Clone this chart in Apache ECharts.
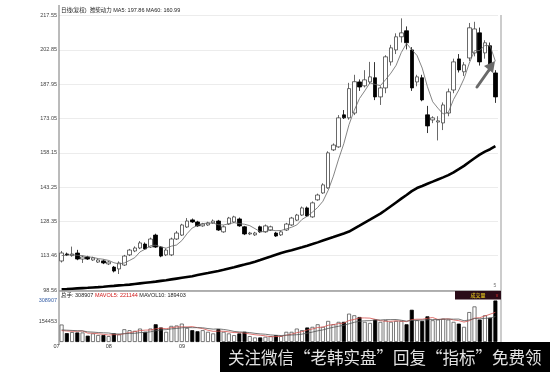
<!DOCTYPE html>
<html><head><meta charset="utf-8">
<script src="https://cdn.jsdelivr.net/npm/echarts@6/dist/echarts.min.js"></script>
<style>html,body{margin:0;padding:0;background:#fff}#c{width:550px;height:372px}</style>
</head><body><div id="c"></div>
<script>
// ---- data ----
const xMonthLabels = {0: '07', 10: '08', 24: '09'};
const priceTicks = ['98.56', '113.46', '128.35', '143.25', '158.15', '173.05', '187.95', '202.85', '217.55'];
const volTicks = ['', '154453', '308907'];

const opens = [111.16,114.2,113.5,114.6,112.0,112.9,111.6,110.7,111.2,109.9,
108.5,107.7,109.4,113.8,115.5,116.8,118.5,117.2,122.4,117.2,
113.8,113.8,120.7,122.4,125.9,129.0,128.1,126.4,126.8,127.7,
128.5,123.8,127.2,128.1,129.4,126.0,122.9,122.5,126.0,123.8,
124.6,123.3,122.5,124.6,126.8,128.9,131.1,134.2,130.3,137.7,
140.7,142.9,159.4,160.7,174.6,173.3,175.4,188.9,187.2,188.9,
190.7,182.4,186.3,197.6,202.8,208.5,211.1,202.8,188.9,190.7,
174.6,172.4,171.5,171.1,175.4,185.4,198.9,193.3,199.3,201.5,
210.2,201.5,204.6,192.8];
const closes = [114.63,113.8,114.2,112.0,112.9,112.0,112.5,111.6,110.3,110.7,
106.8,110.3,113.3,115.9,116.8,119.0,116.4,120.7,117.2,113.3,
115.9,120.7,123.3,126.8,128.5,128.1,126.4,127.2,127.7,128.5,
124.6,126.0,129.8,130.3,126.4,122.9,123.3,123.3,123.8,126.4,
126.0,122.0,123.8,127.2,129.8,131.1,134.2,130.7,136.4,139.8,
144.2,158.1,161.5,173.3,173.3,186.0,189.0,186.7,189.8,191.1,
182.4,186.3,199.8,203.7,208.5,210.2,205.9,186.3,191.1,181.1,
169.8,173.3,172.0,178.9,184.6,197.6,194.1,196.3,212.4,211.9,
197.6,205.9,194.5,182.4];
const lows = [110.5,113.3,113.0,111.5,110.3,111.6,111.2,110.3,109.8,109.4,
106.2,105.5,109.0,113.3,115.0,116.3,116.0,116.8,116.8,112.8,
113.3,113.3,120.3,122.0,125.5,127.7,126.0,126.0,126.4,127.3,
124.2,123.4,126.8,127.7,126.0,122.4,122.4,122.0,123.4,123.4,
124.2,121.6,122.0,124.2,126.4,128.5,130.7,130.3,129.9,137.3,
140.3,142.5,158.9,160.3,172.8,172.5,174.5,185.0,186.5,188.0,
181.0,178.9,184.0,196.0,201.0,206.0,203.0,185.0,187.0,180.5,
166.7,171.0,163.5,168.0,174.0,184.0,193.0,191.5,198.0,200.0,
196.0,199.0,193.5,179.8];
const highs = [115.5,114.8,117.4,116.0,113.5,113.4,113.0,112.2,111.8,111.2,
109.0,111.0,113.8,116.4,117.5,119.8,119.2,121.3,123.0,117.6,
116.6,121.3,124.2,127.3,129.8,129.6,128.6,127.7,128.2,129.2,
129.0,126.6,130.3,130.8,130.0,126.4,123.8,123.8,126.5,127.0,
126.5,123.8,124.3,127.7,130.3,131.6,134.8,134.8,137.0,140.4,
144.9,158.8,162.2,174.5,176.7,188.5,192.0,190.0,194.0,197.6,
197.5,187.0,200.5,205.0,210.0,216.5,213.0,204.0,192.0,192.0,
178.5,174.0,174.0,180.0,186.0,199.0,201.0,197.5,214.5,215.0,
212.5,207.0,206.0,194.0];
const ma5 = [113.5,113.7,113.9,113.6,113.5,113.0,112.7,112.2,111.9,111.4,
110.4,109.9,110.3,111.4,112.6,115.1,116.3,117.8,118.0,117.3,
116.7,117.6,118.1,120.0,123.0,125.5,126.6,127.4,127.6,127.6,
126.9,126.8,127.3,127.8,127.4,127.1,126.5,125.2,123.9,123.9,
124.6,124.3,124.4,125.1,125.8,126.8,129.2,130.6,132.4,134.4,
137.1,141.8,148.0,155.4,162.1,170.4,176.6,181.7,185.0,188.5,
187.8,187.3,189.9,192.7,196.1,201.7,205.6,202.9,200.4,194.9,
186.8,180.3,177.5,175.0,175.7,181.3,185.4,190.3,197.0,202.5,
202.5,204.8,204.5,197.86];
const ma60 = [98.82,98.95,99.10,99.25,99.39,99.52,99.67,99.82,99.99,100.17,
100.34,100.56,100.73,100.91,101.17,101.43,101.69,101.95,102.21,102.51,
102.81,103.16,103.51,103.86,104.21,104.55,105.03,105.47,105.90,106.38,
106.81,107.33,107.90,108.46,109.03,109.59,110.16,110.85,111.59,112.37,
113.11,113.89,114.63,115.24,115.85,116.50,117.11,117.80,118.50,119.24,
120.02,120.80,121.54,122.32,123.10,123.93,125.23,126.53,127.84,129.10,
130.40,131.70,133.27,134.92,136.57,138.22,139.83,141.48,142.83,143.74,
144.69,145.61,146.56,147.47,148.43,149.64,151.04,152.47,154.16,155.77,
157.33,158.64,159.68,160.99];
const volumes = [130000,66000,74000,71000,71000,47000,64000,52000,52000,44000,
64000,57000,95000,88000,83000,100000,76000,100000,132000,108000,
76000,120000,123000,137000,105000,88000,80000,88000,76000,64000,
96000,76000,64000,51000,64000,76000,44000,34000,34000,39000,
44000,51000,44000,76000,76000,100000,88000,108000,113000,132000,
113000,157000,132000,150000,150000,211000,199000,186000,150000,142000,
167000,150000,162000,150000,157000,157000,132000,240000,162000,157000,
191000,162000,167000,174000,167000,150000,137000,113000,223000,265000,
167000,199000,181000,308907];
const mavol5 = [85000,82000,80000,80000,82400,65800,65400,61000,57200,51800,
55200,53800,62400,69600,77400,84600,88400,89400,98200,103200,
98400,107200,111800,112800,112200,114600,106600,99600,87400,79200,
80800,80000,75200,70200,70200,66200,59800,53800,50400,45400,
39000,40400,42400,50800,58200,69400,76800,89600,97000,108200,
110800,124600,129400,136800,140400,160000,168400,179200,179200,177600,
168800,159000,154200,154200,157200,155200,151600,167200,169600,169600,
176400,182400,167800,170200,172200,164000,159000,148200,158000,177600,
181000,193400,207000,221144];
const mavol10 = [90000,88000,86000,84000,83000,75400,73700,70500,68600,67100,
60500,59600,61700,63400,64600,69900,71100,75900,83900,90300,
91500,97800,100600,105500,107700,106500,106900,105700,100100,95700,
97700,93300,87400,78800,74700,73500,69900,64500,60300,57800,
52600,50100,48100,50600,51800,54200,58600,66000,73900,83200,
90100,100700,109500,116900,124300,135400,146500,154300,158000,159000,
164400,163700,166700,166700,167400,162000,155300,160700,161900,163400,
165800,167000,167500,169900,170900,170200,170700,158000,164100,174900,
172500,176200,177600,189403];

// ---- build ----
const cats = opens.map((_, i) => 'k' + i);
const candle = opens.map((o, i) => [o, closes[i], lows[i], highs[i]]);
const volData = volumes.map((v, i) => ({
  value: v,
  itemStyle: closes[i] >= opens[i]
    ? {color: '#ffffff', borderColor: '#555', borderWidth: 0.8}
    : {color: '#000000', borderColor: '#000', borderWidth: 0.8}
}));
const F = '"Liberation Sans", "Noto Sans CJK SC", sans-serif';
const PMIN = 98.56, PSTEP = 14.8975;

const chart = echarts.init(document.getElementById('c'), null, {renderer: 'canvas'});
chart.setOption({
  animation: false,
  backgroundColor: '#ffffff',
  grid: [
    {left: 59, width: 439, top: 15.5, height: 274.5},
    {left: 59, width: 439, top: 300.5, height: 41.5}
  ],
  xAxis: [
    {type: 'category', gridIndex: 0, data: cats, show: false},
    {type: 'category', gridIndex: 1, data: cats,
     axisLine: {show: false}, axisTick: {show: false},
     axisLabel: {interval: 0, margin: 2, fontSize: 5.5, fontFamily: F, color: '#333',
       align: 'right', padding: [0, 2, 0, 0],
       formatter: (v, i) => xMonthLabels[i] || ''}}
  ],
  yAxis: [
    {type: 'value', gridIndex: 0, min: PMIN, max: PMIN + 8 * PSTEP, show: false},
    {type: 'value', gridIndex: 0, position: 'left', min: 0, max: 8, interval: 1,
     axisLine: {show: false}, axisTick: {show: false},
     splitLine: {show: true, lineStyle: {color: '#ececec', width: 1}},
     axisLabel: {margin: 2, fontSize: 5.5, fontFamily: F, color: '#444',
       formatter: (v, i) => priceTicks[i]}},
    {type: 'value', gridIndex: 1, position: 'left', min: 0, max: 308907, interval: 154453.5,
     axisLine: {show: false}, axisTick: {show: false}, splitLine: {show: false},
     axisLabel: {margin: 2, fontSize: 5.5, fontFamily: F,
       color: (v, i) => (i === 2 ? '#3a62a8' : '#444'),
       formatter: (v, i) => volTicks[i]}}
  ],
  series: [
    {type: 'candlestick', xAxisIndex: 0, yAxisIndex: 0, data: candle, barWidth: 4,
     itemStyle: {color: '#ffffff', color0: '#000000', borderColor: '#444', borderColor0: '#000', borderWidth: 0.8}},
    {type: 'line', xAxisIndex: 0, yAxisIndex: 0, data: ma5, symbol: 'none',
     lineStyle: {color: '#666', width: 0.8}},
    {type: 'line', xAxisIndex: 0, yAxisIndex: 0, data: ma60, symbol: 'none',
     lineStyle: {color: '#000', width: 2.6}},
    {type: 'bar', xAxisIndex: 1, yAxisIndex: 2, data: volData, barWidth: 4},
    {type: 'line', xAxisIndex: 1, yAxisIndex: 2, data: mavol5, symbol: 'none',
     lineStyle: {color: '#d9534f', width: 0.8}},
    {type: 'line', xAxisIndex: 1, yAxisIndex: 2, data: mavol10, symbol: 'none',
     lineStyle: {color: '#555', width: 0.8}}
  ],
  graphic: [
    {type: 'line', z: 50, shape: {x1: 59, y1: 5, x2: 59, y2: 345}, style: {stroke: '#777', lineWidth: 1}},
    {type: 'line', z: 50, shape: {x1: 501, y1: 15, x2: 501, y2: 342}, style: {stroke: '#999', lineWidth: 1}},
    {type: 'line', z: 50, shape: {x1: 59, y1: 291, x2: 501, y2: 291}, style: {stroke: '#999', lineWidth: 1.5}},
    {type: 'text', z: 50, x: 61, y: 10, style: {text: '日线(复权)  潍柴动力 MA5: 197.86 MA60: 160.99',
      font: '5.5px ' + F, fill: '#222', align: 'left', verticalAlign: 'middle', textAlign: 'left', textVerticalAlign: 'middle'}},
    {type: 'text', z: 50, x: 61, y: 295.5, style: {text: '{a|总手: 308907 }{r|MAVOL5: 221144}{a| MAVOL10: 189403}',
      align: 'left', verticalAlign: 'middle', textAlign: 'left', textVerticalAlign: 'middle',
      rich: {a: {fill: '#222', color: '#222', font: '5.5px ' + F}, r: {fill: '#d01818', color: '#d01818', font: '5.5px ' + F}}}},
    {type: 'rect', z: 50, shape: {x: 455, y: 291, width: 46, height: 8.5}, style: {fill: '#2a0c18'}},
    {type: 'text', z: 51, x: 478, y: 295.3, style: {text: '成交量', font: '5px ' + F, fill: '#ffe020',
      align: 'center', verticalAlign: 'middle', textAlign: 'center', textVerticalAlign: 'middle'}},
    {type: 'text', z: 51, x: 497, y: 295.3, style: {text: 'v', font: '5px ' + F, fill: '#e03030',
      align: 'center', verticalAlign: 'middle', textAlign: 'center', textVerticalAlign: 'middle'}},
    {type: 'text', z: 51, x: 495, y: 286, style: {text: '5', font: '5px ' + F, fill: '#777',
      align: 'center', verticalAlign: 'middle', textAlign: 'center', textVerticalAlign: 'middle'}},
    {type: 'line', z: 60, shape: {x1: 477, y1: 87, x2: 489, y2: 70}, style: {stroke: '#6a6a6a', lineWidth: 3, lineCap: 'round'}},
    {type: 'polygon', z: 60, shape: {points: [[495, 61], [493, 73], [484, 66]]}, style: {fill: '#6a6a6a'}},
    {type: 'rect', z: 100, shape: {x: 220, y: 342, width: 330, height: 30}, style: {fill: '#000'}},
    {type: 'text', z: 101, x: 228, y: 358, style: {text: '关注微信“老韩实盘”回复“指标”免费领',
      font: '16.5px "Noto Sans CJK SC", sans-serif', fill: '#e2e2e2',
      align: 'left', verticalAlign: 'middle', textAlign: 'left', textVerticalAlign: 'middle'}}
  ]
});
</script>
</body></html>
